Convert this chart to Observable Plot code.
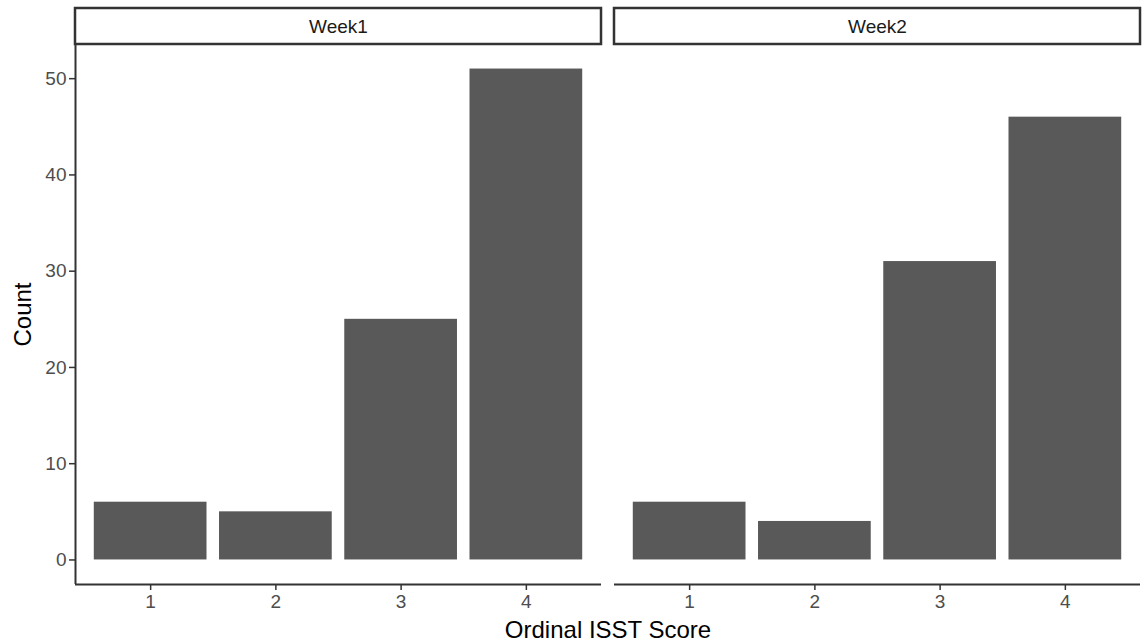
<!DOCTYPE html>
<html>
<head>
<meta charset="utf-8">
<script src="https://cdn.jsdelivr.net/npm/d3@7"></script>
<script src="https://cdn.jsdelivr.net/npm/@observablehq/plot@0.6"></script>
<style>
  html, body { margin: 0; padding: 0; background: white; }
  #chart svg { display: block; }
</style>
</head>
<body>
<div id="chart"></div>
<script>
const weeks = ["Week1", "Week2"];
const scores = [1, 2, 3, 4];
const week1Counts = [6, 5, 25, 51];
const week2Counts = [6, 4, 31, 46];
const yTicks = [0, 10, 20, 30, 40, 50];

const countsByWeek = [week1Counts, week2Counts];
const data = weeks.flatMap((w, i) =>
  scores.map((s, j) => ({ week: w, score: s, count: countsByWeek[i][j] }))
);

const maxCount = d3.max(data, d => d.count);
const yMin = -0.05 * maxCount;
const yMax = 1.05 * maxCount;
const xMin = d3.min(scores) - 0.6;
const xMax = d3.max(scores) + 0.6;
const half = 0.45;

const chart = Plot.plot({
  width: 1143,
  height: 644,
  marginTop: 44,
  marginBottom: 60,
  marginLeft: 74,
  marginRight: 2,
  style: { fontFamily: "'Liberation Sans', Arial, Helvetica, sans-serif", fontSize: "19px", background: "white", color: "black" },
  fx: { domain: weeks, paddingInner: 0.024, paddingOuter: 0, axis: null, label: null },
  x: { domain: [xMin, xMax], axis: null },
  y: { domain: [yMin, yMax], axis: null },
  marks: [
    Plot.rect(weeks, { fx: d => d, x1: xMin, x2: xMax, y1: yMax, y2: yMax, insetTop: -36, fill: "white", stroke: "#333333", strokeWidth: 2.5 }),
    Plot.text(weeks, { fx: d => d, text: d => d, frameAnchor: "top", lineAnchor: "middle", dy: -18, fontSize: 19, fill: "#1a1a1a" }),
    Plot.rect(data, { fx: "week", x1: d => d.score - half, x2: d => d.score + half, y1: 0, y2: "count", fill: "#595959" }),
    Plot.ruleY([yMin], { stroke: "#333333", strokeWidth: 2 }),
    Plot.ruleX([{ week: weeks[0] }], { fx: "week", x: xMin, stroke: "#333333", strokeWidth: 2 }),
    Plot.axisX(scores, { tickSize: 6, tickPadding: 4, tickFormat: "d", fontSize: 19, fill: "#4d4d4d", stroke: "#333333", strokeWidth: 1.5, label: null }),
    Plot.axisY(yTicks, { tickSize: 6, tickPadding: 3, tickFormat: "d", fontSize: 19, fill: "#4d4d4d", stroke: "#333333", strokeWidth: 1.5, label: null }),
    Plot.axisY([], { label: "Count", labelAnchor: "center", labelArrow: "none", labelOffset: 62, fontSize: 24, fill: "black" }),
    Plot.axisFx([], { anchor: "bottom", label: "Ordinal ISST Score", labelAnchor: "center", labelArrow: "none", labelOffset: 53, fontSize: 24, fill: "black" })
  ]
});
document.getElementById("chart").appendChild(chart);
</script>
</body>
</html>
